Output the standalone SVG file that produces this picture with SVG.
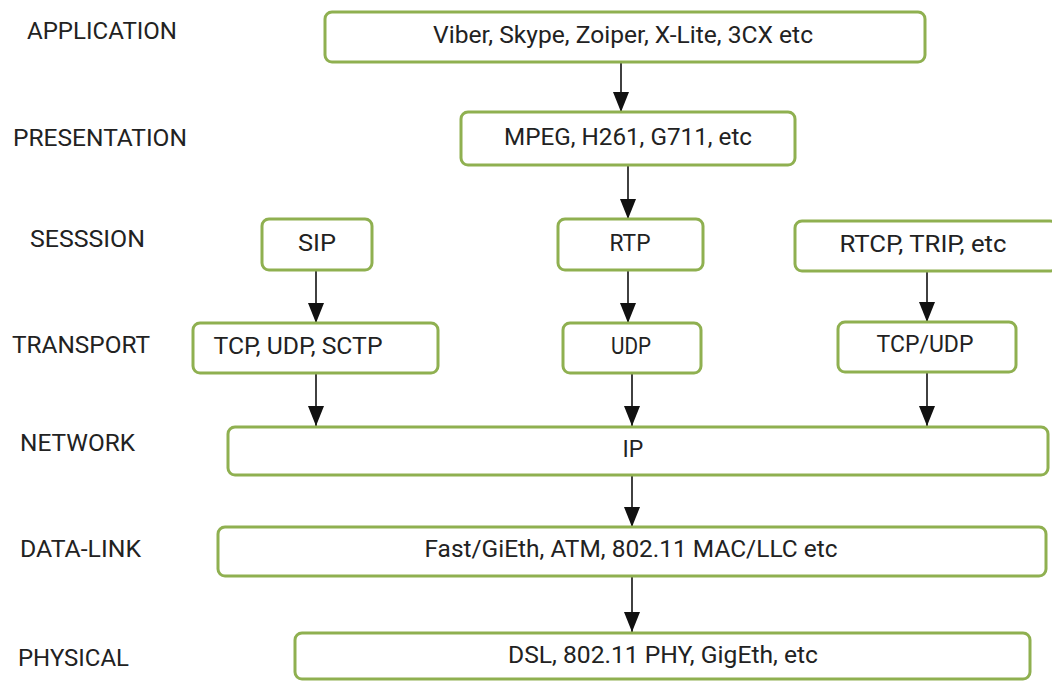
<svg xmlns="http://www.w3.org/2000/svg" width="1052" height="681" viewBox="0 0 1052 681">
<style>
.bg{fill:#ffffff}
.box{fill:#ffffff;stroke:#8fb050;stroke-width:3}
.lbl{font-family:Roboto,"Liberation Sans",sans-serif;font-size:23px;fill:#222}
.t{font-family:Roboto,"Liberation Sans",sans-serif;font-size:23px;fill:#222;text-anchor:middle}
.c{stroke:#111;stroke-width:1.6;fill:none;marker-end:url(#ah)}
</style>
<defs>
<marker id="ah" viewBox="0 0 20 16" refX="20" refY="8" markerWidth="20" markerHeight="16" markerUnits="userSpaceOnUse" orient="auto">
<path d="M0,0 L20,8 L0,16 z" fill="#111"/>
</marker>
</defs>
<rect class="bg" x="0" y="0" width="1052" height="681"/>
<g id="layer-labels">
<text class="lbl" x="27" y="39" textLength="150" lengthAdjust="spacingAndGlyphs">APPLICATION</text>
<text class="lbl" x="13" y="146" textLength="174" lengthAdjust="spacingAndGlyphs">PRESENTATION</text>
<text class="lbl" x="30" y="247" textLength="115" lengthAdjust="spacingAndGlyphs">SESSSION</text>
<text class="lbl" x="12" y="353" textLength="138" lengthAdjust="spacingAndGlyphs">TRANSPORT</text>
<text class="lbl" x="20" y="451" textLength="115" lengthAdjust="spacingAndGlyphs">NETWORK</text>
<text class="lbl" x="20" y="557" textLength="121" lengthAdjust="spacingAndGlyphs">DATA-LINK</text>
<text class="lbl" x="18" y="666" textLength="111" lengthAdjust="spacingAndGlyphs">PHYSICAL</text>
</g>
<g id="connectors">
<line class="c" x1="621" y1="62" x2="621" y2="112"/>
<line class="c" x1="628" y1="165" x2="628" y2="219"/>
<line class="c" x1="316" y1="270" x2="316" y2="323"/>
<line class="c" x1="628" y1="270" x2="628" y2="323"/>
<line class="c" x1="927" y1="271" x2="927" y2="322"/>
<line class="c" x1="316" y1="373" x2="316" y2="426"/>
<line class="c" x1="632" y1="373" x2="632" y2="426"/>
<line class="c" x1="927" y1="372" x2="927" y2="426"/>
<line class="c" x1="632" y1="475" x2="632" y2="527"/>
<line class="c" x1="632" y1="576" x2="632" y2="632"/>
</g>
<g id="app"><rect class="box" x="325" y="12" width="600" height="50" rx="7"/><text class="t" x="623" y="43" textLength="380" lengthAdjust="spacingAndGlyphs">Viber, Skype, Zoiper, X-Lite, 3CX etc</text></g>
<g id="pres"><rect class="box" x="461" y="112" width="334" height="53" rx="7"/><text class="t" x="628" y="145" textLength="248" lengthAdjust="spacingAndGlyphs">MPEG, H261, G711, etc</text></g>
<g id="sip"><rect class="box" x="262" y="219" width="110" height="51" rx="7"/><text class="t" x="317" y="251" textLength="38" lengthAdjust="spacingAndGlyphs">SIP</text></g>
<g id="rtp"><rect class="box" x="558" y="219" width="145" height="51" rx="7"/><text class="t" x="630" y="251" textLength="41" lengthAdjust="spacingAndGlyphs">RTP</text></g>
<g id="rtcp"><rect class="box" x="795" y="221" width="262" height="50" rx="7"/><text class="t" x="923" y="252" textLength="167" lengthAdjust="spacingAndGlyphs">RTCP, TRIP, etc</text></g>
<g id="tcpudpsctp"><rect class="box" x="193" y="323" width="245" height="50" rx="7"/><text class="t" x="298" y="354" textLength="169" lengthAdjust="spacingAndGlyphs">TCP, UDP, SCTP</text></g>
<g id="udp"><rect class="box" x="563" y="323" width="138" height="50" rx="7"/><text class="t" x="631" y="354" textLength="40" lengthAdjust="spacingAndGlyphs">UDP</text></g>
<g id="tcpudp"><rect class="box" x="838" y="322" width="178" height="50" rx="7"/><text class="t" x="925" y="352" textLength="97" lengthAdjust="spacingAndGlyphs">TCP/UDP</text></g>
<g id="ip"><rect class="box" x="228" y="427" width="820" height="48" rx="7"/><text class="t" x="633" y="457">IP</text></g>
<g id="datalink"><rect class="box" x="218" y="527" width="828" height="49" rx="7"/><text class="t" x="631" y="557" textLength="413" lengthAdjust="spacingAndGlyphs">Fast/GiEth, ATM, 802.11 MAC/LLC etc</text></g>
<g id="physical"><rect class="box" x="295" y="633" width="735" height="46" rx="7"/><text class="t" x="663" y="663" textLength="310" lengthAdjust="spacingAndGlyphs">DSL, 802.11 PHY, GigEth, etc</text></g>
</svg>
